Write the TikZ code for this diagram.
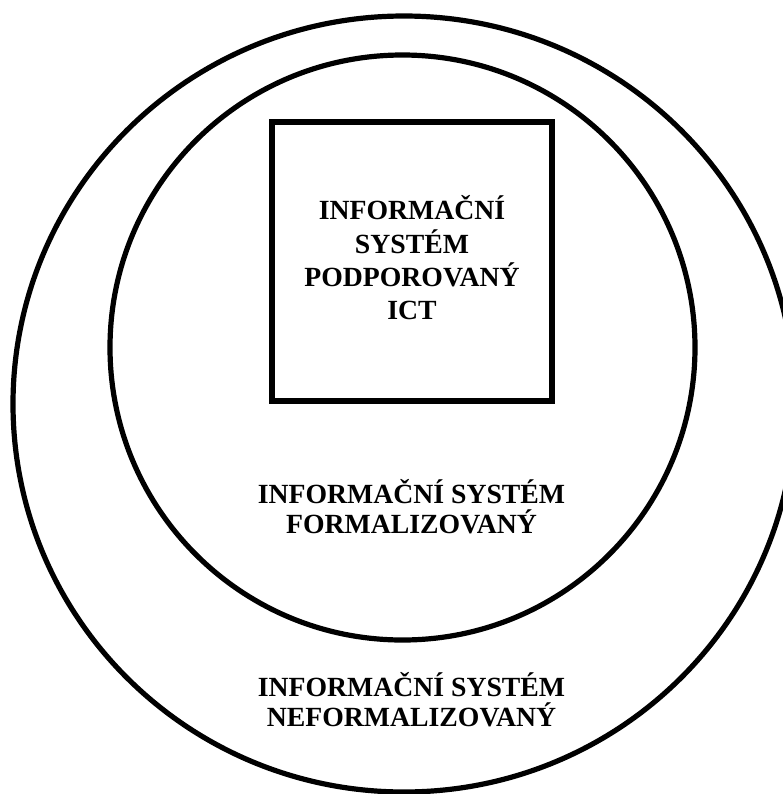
\documentclass[tikz,border=0pt]{standalone}
\usepackage{fontspec}
\setmainfont{Liberation Serif}
\begin{document}
\begin{tikzpicture}[x=0.75pt, y=-0.75pt,
  ring/.style={line width=3.9pt},
  label/.style={align=center, inner sep=0pt, font=\bfseries\fontsize{20.8}{22.5}\selectfont}]
  \useasboundingbox (0,0) rectangle (783,794);
  \clip (0,0) rectangle (783,794);
  % outer level: the whole information system
  \draw[ring] (404,404) ellipse [x radius=391, y radius=388];
  % formalised part
  \draw[ring] (402.5,347.5) circle [radius=292.5];
  % part supported by ICT
  \draw[ring] (272,122) rectangle (552,401);
  \node[label, font=\bfseries\fontsize{20.8}{25}\selectfont] (ict) at (412,258)
    {INFORMAČNÍ\\SYSTÉM\\PODPOROVANÝ\\ICT};
  \node[label] (formal) at (411.5,506.5) {INFORMAČNÍ SYSTÉM\\FORMALIZOVANÝ};
  \node[label] (informal) at (411.5,699.5) {INFORMAČNÍ SYSTÉM\\NEFORMALIZOVANÝ};
\end{tikzpicture}
\end{document}
